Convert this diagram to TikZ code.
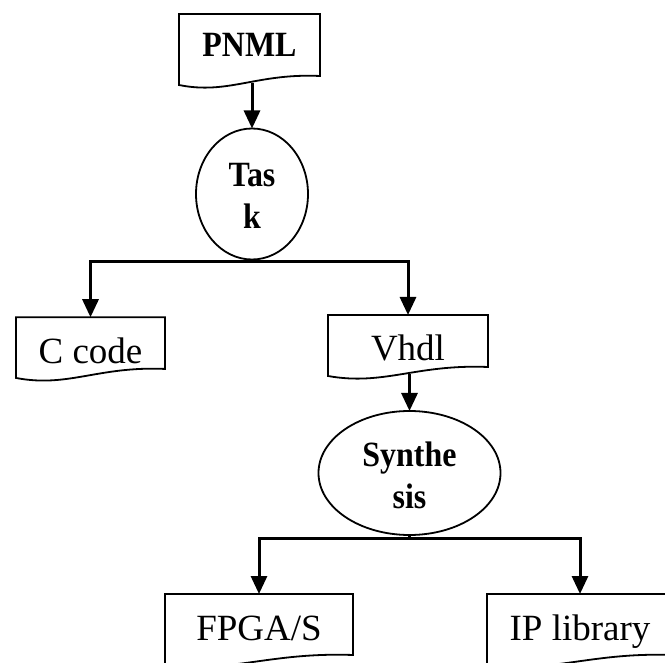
\documentclass[tikz,border=0pt]{standalone}
\usepackage{fontspec}
\setmainfont{Liberation Serif}
\newfontfamily\narrowserif[FakeStretch=0.9]{Liberation Serif}
\usetikzlibrary{shapes.geometric,arrows.meta,calc}
\tikzset{
  boxline/.style={draw=black,line width=1.8pt,line join=miter},
  docbox/.style={inner sep=0pt,outer sep=0pt,text depth=0pt,text height=#1,
    font=\fontsize{37}{44}\selectfont},
  docbold/.style={docbox=#1,font=\narrowserif\bfseries\fontsize{35.5}{42}\selectfont},
  procbox/.style={ellipse,draw=black,line width=1.8pt,inner sep=0pt,outer sep=0pt,
    align=center,text height=70pt,text depth=0pt,
    font=\narrowserif\bfseries\fontsize{35.5}{42}\selectfont},
  link/.style={line width=3pt},
  arr/.style={link,-{Triangle[width=16pt,length=18pt]}},
}
\newcommand\docoutline[1]{%
  \draw[boxline] ([yshift=-2pt]#1.south west) -- (#1.north west) -- (#1.north east)
    -- ([yshift=7pt]#1.south east)
    .. controls ($(#1.south west)!0.55!(#1.south east)+(0,10pt)$)
    and ($(#1.south west)!0.35!(#1.south east)+(0,-12pt)$)
    .. ([yshift=-2pt]#1.south west) -- cycle;}
\begin{document}
\begin{tikzpicture}[x=1pt,y=-1pt]
  \useasboundingbox (0,0) rectangle (665,663);
  \clip (0,0) rectangle (665,663);
  % document nodes
  \node[docbold=15.9pt,minimum width=141pt,minimum height=69pt] (pnml) at (249.5,48.5) {PNML};
  \node[docbox=34.7pt,minimum width=149pt,minimum height=58.7pt] (ccode) at (90.5,346.6) {C code};
  \node[docbox=31.5pt,minimum width=160pt,minimum height=59pt] (vhdl) at (408,344.5) {Vhdl};
  \node[docbox=24.5pt,minimum width=188pt,minimum height=68pt] (fpga) at (259,628) {FPGA/S};
  \node[docbox=25.5pt,minimum width=186pt,minimum height=68pt] (iplib) at (580,628) {IP library};
  \docoutline{pnml}
  \docoutline{ccode}
  \docoutline{vhdl}
  \docoutline{fpga}
  \docoutline{iplib}
  % process nodes
  \node[procbox,minimum width=112pt,minimum height=131pt] (task) at (252,194) {Tas\\k};
  \node[procbox,minimum width=182pt,minimum height=124pt] (synth) at (409.5,473) {Synthe\\sis};
  % junctions
  \coordinate (j1) at (252,262);
  \coordinate (j2) at (409.5,538);
  % connectors
  \draw[arr] (pnml.south -| task.north) -- (task.north);
  \draw[link] (task.south) -- (j1);
  \draw[arr] (j1) -| (ccode.north);
  \draw[arr] (j1) -| (vhdl.north);
  \draw[arr] (vhdl.south -| synth.north) -- (synth.north);
  \draw[link] (synth.south) -- (j2);
  \draw[arr] (j2) -| (fpga.north);
  \draw[arr] (j2) -| (iplib.north);
\end{tikzpicture}
\end{document}
